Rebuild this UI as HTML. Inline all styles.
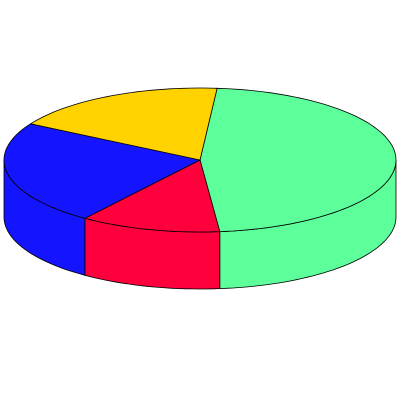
<!DOCTYPE html>
<html><head><meta charset="utf-8"><style>html,body{margin:0;padding:0;background:#fff;width:400px;height:400px;overflow:hidden}</style></head>
<body>
<svg id="chart" width="400" height="400" viewBox="0 0 400 400" xmlns="http://www.w3.org/2000/svg"></svg>
<script>
const categories = ["Green", "Red", "Blue", "Yellow"];
const values = [47, 11.6, 23.4, 18];
const colors = ["#5cff9a", "#ff003c", "#1414ff", "#ffd200"];

const svg = document.getElementById('chart');
const NS = 'http://www.w3.org/2000/svg';
const cx = 200, cy = 160, rx = 196, ry = 72, depth = 57;
const startDeg = -85;
const total = values.reduce((a, b) => a + b, 0);
function pt(deg, dy) { const r = deg * Math.PI / 180; return [cx + rx * Math.cos(r), cy + ry * Math.sin(r) + (dy || 0)]; }
function arcPts(a1, a2, dy) { const pts = []; const n = Math.max(2, Math.ceil(Math.abs(a2 - a1) / 2)); for (let i = 0; i <= n; i++) pts.push(pt(a1 + (a2 - a1) * i / n, dy)); return pts; }
const slices = []; let acc = startDeg;
values.forEach((v, i) => { const a1 = acc, a2 = acc + v / total * 360; slices.push([a1, a2]); acc = a2; });
slices.forEach(([a1, a2], i) => {
  for (let off = -360; off <= 360; off += 360) {
    const s = Math.max(a1 + off, 0), e = Math.min(a2 + off, 180);
    if (e <= s) continue;
    const top = arcPts(s, e, 0), bot = arcPts(e, s, depth);
    const p = document.createElementNS(NS, 'path');
    p.setAttribute('d', 'M' + top.concat(bot).map(q => q[0].toFixed(1) + ',' + q[1].toFixed(1)).join('L') + 'Z');
    p.setAttribute('fill', colors[i]); p.setAttribute('stroke', '#000'); p.setAttribute('stroke-width', '0.8');
    
    
    svg.appendChild(p);
  }
});
slices.forEach(([a1, a2], i) => {
  const pts = [[cx, cy]].concat(arcPts(a1, a2, 0));
  const p = document.createElementNS(NS, 'path');
  p.setAttribute('d', 'M' + pts.map(q => q[0].toFixed(1) + ',' + q[1].toFixed(1)).join('L') + 'Z');
  p.setAttribute('fill', colors[i]); p.setAttribute('stroke', '#000'); p.setAttribute('stroke-width', '0.8');
  
  
  svg.appendChild(p);
});
</script>
</body></html>
